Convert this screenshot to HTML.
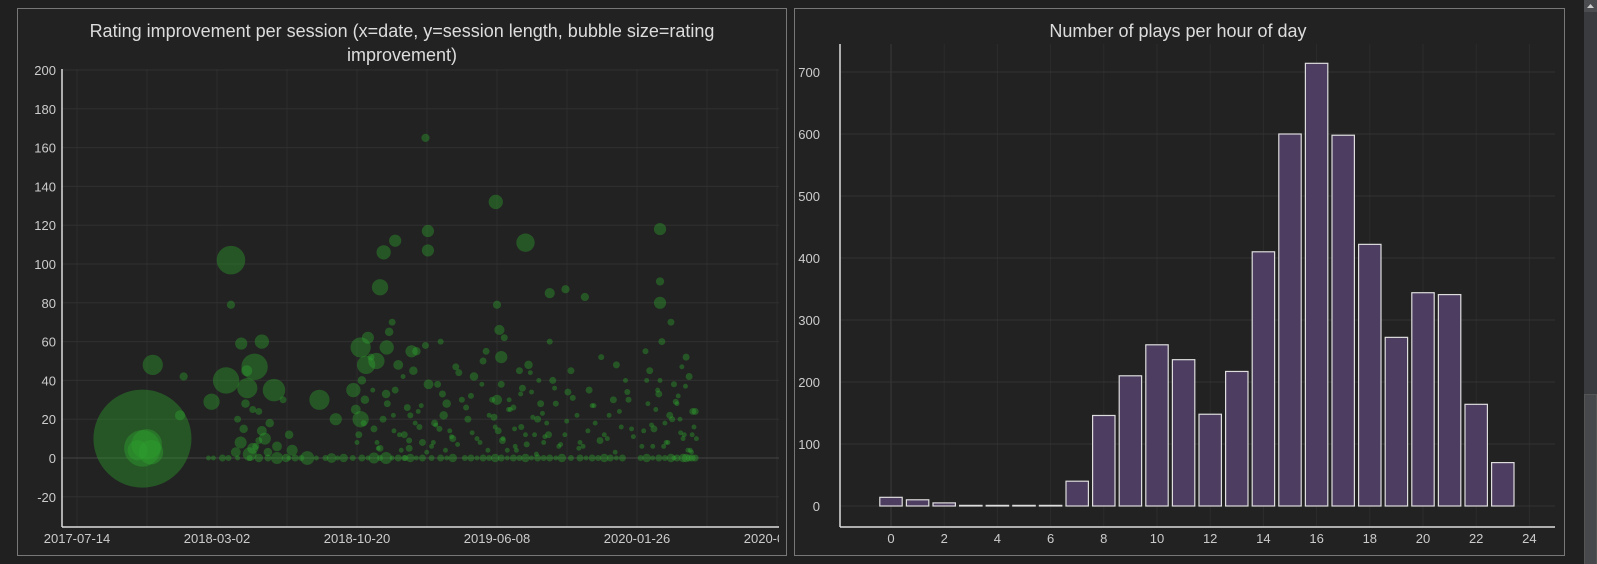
<!DOCTYPE html>
<html><head><meta charset="utf-8">
<style>
html,body{margin:0;padding:0;background:#202020;width:1597px;height:564px;overflow:hidden;font-family:"Liberation Sans","DejaVu Sans",sans-serif;}
svg{position:absolute;left:0;top:0;}
</style></head>
<body>
<svg id="chart" width="1597" height="564" xmlns="http://www.w3.org/2000/svg">
  <defs>
    <clipPath id="leftClip"><rect x="18" y="9" width="761" height="546"/></clipPath>
    <clipPath id="plotClip"><rect x="62" y="69" width="717" height="458"/></clipPath>
  </defs>
  <rect x="17.5" y="8.5" width="769" height="547" fill="#222" stroke="#777"/>
  <rect x="794.5" y="8.5" width="770" height="547" fill="#222" stroke="#777"/>
  <text x="402" y="37" fill="#ddd" font-size="18" text-anchor="middle">Rating improvement per session (x=date, y=session length, bubble size=rating</text>
  <text x="402" y="61" fill="#ddd" font-size="18" text-anchor="middle">improvement)</text>
  <text x="1178" y="37" fill="#ddd" font-size="18" text-anchor="middle">Number of plays per hour of day</text>
  <g id="left"></g>
  <g id="right"></g>
  <rect x="1584" y="0" width="13" height="564" fill="#3a3b3e"/>
  <rect x="1584.5" y="394.5" width="12" height="170" fill="#46484c" stroke="#555"/>
  <rect x="1584" y="0" width="13" height="12" fill="#4a4c50"/>
  <path d="M1587 8 L1590.5 4 L1594 8 Z" fill="#ccc"/>
</svg>
<script>
// ---- bubble chart data ----
const bubbleYTicks = [-20,0,20,40,60,80,100,120,140,160,180,200];
const bubbleXTickLabels = ["2017-07-14","2018-03-02","2018-10-20","2019-06-08","2020-01-26","2020-09-13"];
// day offset from 2017-07-14
const sessionDays = [108,108,115,122,100,125,176,170,254,254,246,281,305,271,293,325,222,400,468,500,506,525,579,579,575,691,740,477,456,494,511,552,427,468,962,962,962,780,838,806,693,697,700,693,
 262,270,275,285,290,300,310,318,330,340,350,355,265,278,295,305,315,280,290,300,
 460,470,480,490,500,510,520,530,540,550,560,570,580,590,600,610,620,630,465,475,485,495,505,515,525,535,545,555,565,575,585,595,605,615,625,635,
 645,655,665,675,685,695,705,715,725,735,745,755,765,775,785,795,650,660,670,680,690,700,710,720,730,740,750,760,770,780,790,
 805,815,825,835,845,855,865,875,885,895,905,915,810,830,850,870,890,910,
 935,945,955,965,975,985,995,1005,1015,1020,940,950,960,970,980,990,1000,1010,1018,938,958,978,998,1012,
 217,240,300,330,345,360,380,420,440,470,490,510,530,550,570,600,620,650,670,690,700,720,740,760,780,800,830,850,870,880,900,940,960,980,990,1000,1005,1010,1015,1020,
 462,473,488,497,512,523,538,548,563,577,592,603,618,628,642,652,668,678,688,703,713,723,733,748,758,768,778,788,798,808,818,828,843,853,863,878,888,898,908,918,932,942,952,962,972,982,992,1002,1008,1016,1022,948,968,988,996,1004,1014,702,712,722,732,742,752,762,772,548,558,568,588,598,608,522,532,542,
 225,250,265,285,315,350,370,395,410,430,455,480,500,520,540,560,585,610,640,660,680,710,730,750,770,790,815,840,860,890,930,950,970,985,995];
const sessionLengths = [10,5,7,3,4,48,42,22,102,79,40,36,60,59,47,35,29,30,57,88,106,112,117,107,165,132,111,48,35,50,57,55,20,20,118,80,91,85,83,87,79,66,52,30,
 3,8,15,2,5,24,10,18,6,30,12,4,20,28,6,14,3,45,25,9,
 25,40,62,15,5,33,70,48,12,22,55,8,38,18,60,28,10,44,12,30,52,8,20,65,35,4,26,45,16,58,6,38,22,14,47,30,
 20,42,8,55,30,14,62,25,4,36,48,12,28,18,40,6,32,10,50,22,16,38,4,26,45,12,34,20,8,60,
 28,12,45,22,6,35,18,52,10,30,24,40,15,34,8,27,12,48,
 30,14,45,25,60,8,38,20,52,12,24,40,6,33,18,70,28,10,42,16,55,35,22,47,4,
 0,0,0,0,0,0,0,0,0,0,0,0,0,0,0,0,0,0,0,0,0,0,0,0,0,0,0,0,0,0,0,0,0,0,0,0,0,0,0,0,
 8,18,35,5,28,14,42,9,24,3,17,33,11,7,26,13,38,4,21,10,30,6,16,44,2,23,12,36,7,19,31,5,14,27,9,22,3,16,34,11,6,28,15,40,8,20,32,12,4,24,10,17,6,29,13,37,3,9,25,15,33,7,21,40,11,5,18,27,8,15,4,22,12,
 0,0,0,0,0,0,0,0,0,0,0,0,0,0,0,0,0,0,0,0,0,0,0,0,0,0,0,0,0,0,0,0,0,0,0];
const ratingGains = [400,56,39,25,17,17,2.8,4.3,34,2.8,29,17,8.5,6.2,29,21,11,17,17,11,8.5,6.2,6.2,6.2,2.8,8.5,14,14,8.5,11,8.5,6.2,6.2,11,6.2,6.2,2.8,4.3,2.8,2.8,2.8,4.3,6.2,4.3,
 4,6,3,8,5,2,6,3,4,2,3,5,2,3,2,4,3,5,2,2,
 4,3,6,2,2,3,2,4,2,1.5,3,2,4,2,1.5,3,2,2,2,3,2,1,2,3,2,1,2,3,1.5,2,1,2,3,1,2,1.5,
 2,3,1,2,1.5,2,2,1,1,2,3,1,2,1,2,1,1.5,1,2,1,1,2,1,1.5,2,1,1,2,1,1.5,
 1.5,1,2,1,1,2,1,1.5,1,2,1,1,1,2,1,1,1,2,
 1.5,1,2,1,2,1,1.5,1,2,1,2,1,1,2,1,2,1,1,2,1,1.5,1,2,1,1,
 1,2,3,6,3,2,8,4,3,2,5,6,2,3,2,2,3,2,2,3,2,2,3,2,2,3,2,2,3,2,2,3,2,3,2,3,3,2,2,2,
 1,1.5,1,1,2,1,1,1.5,1,1,1,2,1,1,1.5,1,1,1,2,1,1,1,1.5,1,1,1,2,1,1,1,1.5,1,1,1,2,1,1,1,1.5,1,1,1,2,1,1,1.5,1,1,1,2,1,1,1,1.5,1,1,1,2,1,1,1,1.5,1,1,1,2,1,1,1,1.5,1,1,1,
 1.5,1,1.5,1,1.5,2,1,1.5,1,1.5,1,1.5,1,1.5,1,1.5,1,1.5,1,1.5,1,1.5,1,1.5,1,1.5,1,1.5,1,1.5,1,1.5,1,1.5,1];

// ---- bar chart data ----
const hours = [0,1,2,3,4,5,6,7,8,9,10,11,12,13,14,15,16,17,18,19,20,21,22,23];
const playCounts = [14,10,5,1,1,1,1,40,146,210,260,236,148,217,410,600,714,598,422,272,344,341,164,70];
const barYTicks = [0,100,200,300,400,500,600,700];
const barXTicks = [0,2,4,6,8,10,12,14,16,18,20,22,24];

const NS = "http://www.w3.org/2000/svg";
function mk(tag, attrs, parent, txt){const e=document.createElementNS(NS,tag);for(const k in attrs)e.setAttribute(k,attrs[k]);if(txt!==undefined)e.textContent=txt;parent.appendChild(e);return e;}

// ---- left chart ----
const L = document.getElementById('left');
L.setAttribute('clip-path','url(#leftClip)');
const xL = d => 77 + d*140/231;
const yL = v => 458 - v*1.94;
for (let k=0;k<12;k++){const x=xL(k*115.5);
  const g=mk('line',{x1:x,x2:x,y1:69,y2:527,stroke:'#2c2c2c','stroke-width':1},L);
  
  }
bubbleYTicks.forEach(v=>{
  const g=mk('line',{x1:62,x2:779,y1:yL(v),y2:yL(v),stroke:v===0?'#444':'#303030','stroke-width':1},L);
  
  
  const t=mk('text',{x:56,y:yL(v)+5,fill:'#ccc','font-size':13,'text-anchor':'end'},L,String(v));
  
  
});
const pg = mk('g',{'clip-path':'url(#plotClip)'},L);
sessionDays.forEach((d,i)=>{
  const r = 2.45*Math.sqrt(ratingGains[i]);
  const c = mk('circle',{cx:xL(d),cy:yL(sessionLengths[i]),r:r,fill:'rgba(46,160,46,0.42)'},pg);
  
  
});
const ya=mk('line',{x1:62,x2:62,y1:69,y2:527,stroke:'#ddd','stroke-width':1.5},L);


const xa=mk('line',{x1:62,x2:779,y1:527,y2:527,stroke:'#ddd','stroke-width':1.5},L);


bubbleXTickLabels.forEach((s,k)=>{
  const t=mk('text',{x:xL(k*231),y:543,fill:'#ccc','font-size':13,'text-anchor':'middle'},L,s);
  
  
});

// ---- right chart ----
const R = document.getElementById('right');
const xR = h => 891 + h*26.6;
const yR = v => 506 - v*0.62;
barXTicks.forEach(h=>{
  const g=mk('line',{x1:xR(h),x2:xR(h),y1:44,y2:527,stroke:h===0?'#3a3a3a':'#2c2c2c','stroke-width':1},R);
  
  
  const t=mk('text',{x:xR(h),y:531+12,fill:'#ccc','font-size':13,'text-anchor':'middle'},R,String(h));
  
  
});
barYTicks.forEach(v=>{
  const g=mk('line',{x1:840,x2:1555,y1:yR(v),y2:yR(v),stroke:'#333','stroke-width':1},R);
  
  
  const t=mk('text',{x:820,y:yR(v)+5,fill:'#ccc','font-size':13,'text-anchor':'end'},R,String(v));
  
  
});
hours.forEach((h,i)=>{
  const y=yR(playCounts[i]);
  const b=mk('rect',{x:xR(h)-11.2,y:y,width:22.4,height:Math.max(0.5,yR(0)-y),fill:'#4d3d60',stroke:'#ddd','stroke-width':1.2},R);
  
  
});
const ya2=mk('line',{x1:840,x2:840,y1:44,y2:527,stroke:'#ddd','stroke-width':1.5},R);


const xa2=mk('line',{x1:840,x2:1555,y1:527,y2:527,stroke:'#ddd','stroke-width':1.5},R);


</script>
</body></html>
